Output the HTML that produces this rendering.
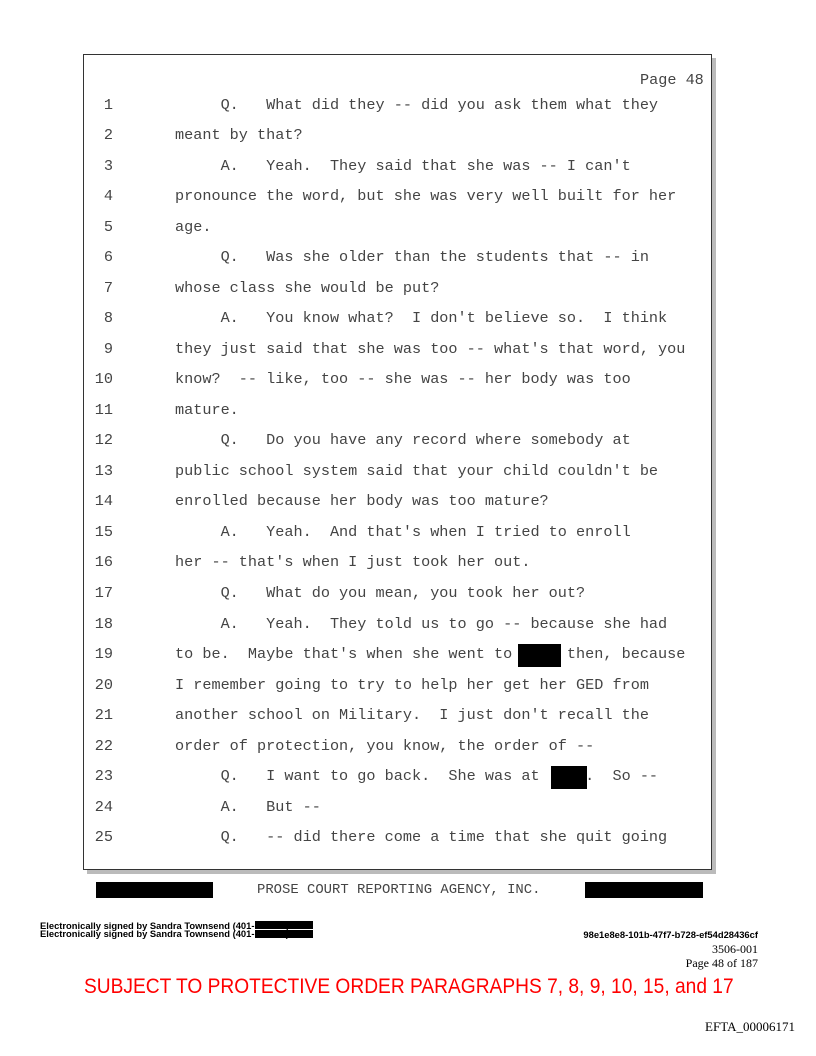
<!DOCTYPE html>
<html><head><meta charset="utf-8"><style>
body{margin:0;background:#fff;}
#pg{position:relative;width:816px;height:1056px;overflow:hidden;background:#fff;}
.box{position:absolute;left:83px;top:54px;width:627px;height:814px;border:1px solid #333;background:#fff;box-shadow:4px 4px 0 #bbb;}
.ln{position:absolute;font-family:"Liberation Mono",monospace;font-size:15.2px;line-height:16px;color:#444;white-space:pre;}
.num{position:absolute;left:80px;width:33px;text-align:right;font-family:"Liberation Mono",monospace;font-size:15.2px;line-height:16px;color:#444;}
.blk{position:absolute;background:#000;}
.sig{position:absolute;left:40px;font-family:"Liberation Sans",sans-serif;font-weight:bold;font-size:9.4px;line-height:9px;color:#000;white-space:pre;}
#t{position:absolute;left:0;top:3px;width:816px;height:800px;}
</style></head><body><div id="pg">
<div class="box"></div>
<div class="ln" style="left:640px;top:72px;">Page 48</div>
<div id="t">
<div class="num" style="top:94px">1</div><div class="ln" style="left:175px;top:94px">     Q.   What did they -- did you ask them what they</div>
<div class="num" style="top:124px">2</div><div class="ln" style="left:175px;top:124px">meant by that?</div>
<div class="num" style="top:155px">3</div><div class="ln" style="left:175px;top:155px">     A.   Yeah.  They said that she was -- I can't</div>
<div class="num" style="top:185px">4</div><div class="ln" style="left:175px;top:185px">pronounce the word, but she was very well built for her</div>
<div class="num" style="top:216px">5</div><div class="ln" style="left:175px;top:216px">age.</div>
<div class="num" style="top:246px">6</div><div class="ln" style="left:175px;top:246px">     Q.   Was she older than the students that -- in</div>
<div class="num" style="top:277px">7</div><div class="ln" style="left:175px;top:277px">whose class she would be put?</div>
<div class="num" style="top:307px">8</div><div class="ln" style="left:175px;top:307px">     A.   You know what?  I don't believe so.  I think</div>
<div class="num" style="top:338px">9</div><div class="ln" style="left:175px;top:338px">they just said that she was too -- what's that word, you</div>
<div class="num" style="top:368px">10</div><div class="ln" style="left:175px;top:368px">know?  -- like, too -- she was -- her body was too</div>
<div class="num" style="top:399px">11</div><div class="ln" style="left:175px;top:399px">mature.</div>
<div class="num" style="top:429px">12</div><div class="ln" style="left:175px;top:429px">     Q.   Do you have any record where somebody at</div>
<div class="num" style="top:460px">13</div><div class="ln" style="left:175px;top:460px">public school system said that your child couldn't be</div>
<div class="num" style="top:490px">14</div><div class="ln" style="left:175px;top:490px">enrolled because her body was too mature?</div>
<div class="num" style="top:521px">15</div><div class="ln" style="left:175px;top:521px">     A.   Yeah.  And that's when I tried to enroll</div>
<div class="num" style="top:551px">16</div><div class="ln" style="left:175px;top:551px">her -- that's when I just took her out.</div>
<div class="num" style="top:582px">17</div><div class="ln" style="left:175px;top:582px">     Q.   What do you mean, you took her out?</div>
<div class="num" style="top:613px">18</div><div class="ln" style="left:175px;top:613px">     A.   Yeah.  They told us to go -- because she had</div>
<div class="num" style="top:643px">19</div><div class="ln" style="left:175px;top:643px">to be.  Maybe that's when she went to      then, because</div>
<div class="num" style="top:674px">20</div><div class="ln" style="left:175px;top:674px">I remember going to try to help her get her GED from</div>
<div class="num" style="top:704px">21</div><div class="ln" style="left:175px;top:704px">another school on Military.  I just don't recall the</div>
<div class="num" style="top:735px">22</div><div class="ln" style="left:175px;top:735px">order of protection, you know, the order of --</div>
<div class="num" style="top:765px">23</div><div class="ln" style="left:175px;top:765px">     Q.   I want to go back.  She was at     .  So --</div>
<div class="num" style="top:796px">24</div><div class="ln" style="left:175px;top:796px">     A.   But --</div>
<div class="num" style="top:826px">25</div><div class="ln" style="left:175px;top:826px">     Q.   -- did there come a time that she quit going</div>
<div class="blk" style="left:518px;top:641px;width:43px;height:23px"></div>
<div class="blk" style="left:551px;top:763px;width:36px;height:23px"></div>
</div>

<div class="blk" style="left:96px;top:882px;width:117px;height:16px"></div>
<div class="blk" style="left:585px;top:882px;width:118px;height:16px"></div>
<div class="ln" style="left:257px;top:882px;font-size:13.9px;">PROSE COURT REPORTING AGENCY, INC.</div>

<div class="sig" style="top:921px">Electronically signed by Sandra Townsend (401-            )</div>
<div class="sig" style="top:929px">Electronically signed by Sandra Townsend (401-            )</div>
<div class="blk" style="left:255px;top:921px;width:58px;height:8px"></div>
<div class="blk" style="left:255px;top:930px;width:58px;height:8px"></div>
<div style="position:absolute;right:58px;top:930px;font-family:'Liberation Sans',sans-serif;font-weight:bold;font-size:9.4px;line-height:9px;">98e1e8e8-101b-47f7-b728-ef54d28436cf</div>
<div style="position:absolute;right:58px;top:942px;font-family:'Liberation Serif',serif;font-size:12px;line-height:14px;text-align:right;">3506-001<br>Page 48 of 187</div>
<div style="position:absolute;left:84px;top:974px;width:650px;font-family:'Liberation Sans',sans-serif;font-size:21px;line-height:26px;color:#f00;white-space:nowrap;transform:scaleX(0.913);transform-origin:left top;">SUBJECT TO PROTECTIVE ORDER PARAGRAPHS 7, 8, 9, 10, 15, and 17</div>
<div style="position:absolute;right:21px;top:1019px;font-family:'Liberation Serif',serif;font-size:13px;line-height:15px;">EFTA_00006171</div>
</div></body></html>
